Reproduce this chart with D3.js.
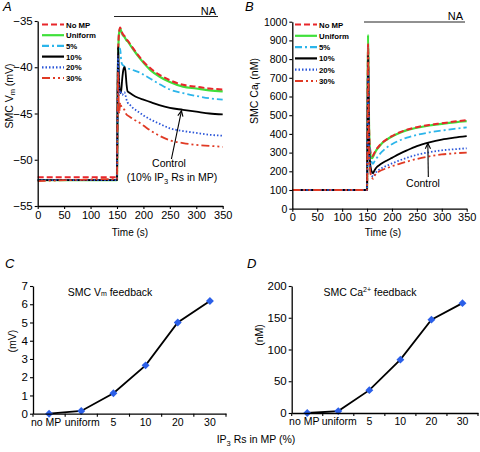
<!DOCTYPE html>
<html><head><meta charset="utf-8">
<script src="https://cdn.jsdelivr.net/npm/d3@7"></script>
<style>body{margin:0;background:#fff}svg{display:block;font-family:"Liberation Sans",Arial,sans-serif}</style>
</head><body><svg id="c" width="480" height="452"></svg>
<script>
// ---------- data ----------
const time = [0,30,60,90,120,149,150,151,152,153,154,156,158,160,162,164,166,168,170,175,180,190,200,215,230,250,275,300,325,350];
const seriesNames = ["No MP","Uniform","5%","10%","20%","30%"];
// Panel A: SMC Vm (mV)
const vmNoMP   = [-51.9,-51.9,-51.9,-51.9,-51.9,-51.9,-51.9,-45,-39,-37,-36.2,-35.7,-36.0,-36.3,-36.5,-36.6,-36.8,-37.0,-37.1,-37.5,-37.9,-38.7,-39.4,-40.2,-40.8,-41.4,-41.9,-42.1,-42.3,-42.4];
const vmUniform= [-52.2,-52.2,-52.2,-52.2,-52.2,-52.2,-52.2,-45,-39.5,-37.2,-36.3,-35.8,-36.1,-36.4,-36.6,-36.7,-36.9,-37.1,-37.2,-37.6,-38.0,-38.8,-39.5,-40.4,-41.0,-41.6,-42.1,-42.3,-42.5,-42.6];
const vm5      = [-52.2,-52.2,-52.2,-52.2,-52.2,-52.2,-52.2,-45,-39,-38.2,-38.0,-38.0,-39.3,-39.7,-39.8,-39.9,-40.0,-40.0,-40.1,-40.2,-40.3,-40.5,-40.8,-41.3,-41.8,-42.4,-42.8,-43.1,-43.35,-43.5];
const vm10     = [-52.2,-52.2,-52.2,-52.2,-52.2,-52.2,-52.2,-44,-37.8,-39.5,-41.5,-42.8,-42.5,-41.2,-40.3,-40.0,-40.4,-41.8,-42.6,-42.8,-43.0,-43.3,-43.5,-43.8,-44.1,-44.4,-44.6,-44.8,-45.0,-45.1];
const vm20     = [-52.2,-52.2,-52.2,-52.2,-52.2,-52.2,-52.2,-45,-38.8,-41,-43,-42.5,-42.8,-43.0,-42.8,-42.7,-43.0,-43.5,-43.8,-44.1,-44.4,-44.8,-45.2,-45.7,-46.1,-46.6,-46.9,-47.1,-47.3,-47.4];
const vm30     = [-52.3,-52.25,-52.2,-52.15,-52.1,-52.1,-52.1,-46,-40.5,-43,-45,-43.8,-44.2,-44.4,-44.5,-44.6,-44.9,-45.1,-45.2,-45.4,-45.6,-45.9,-46.3,-46.9,-47.4,-47.9,-48.2,-48.4,-48.5,-48.6];
// Panel B: SMC Cai (nM)
const caNoMP   = [100,100,100,100,100,100,100,500,880,700,450,320,290,280,285,295,305,315,322,338,352,372,388,408,422,436,448,457,466,474];
const caUniform= [100,100,100,100,100,100,100,550,930,720,440,310,275,270,278,290,300,310,318,335,350,370,386,405,420,433,445,454,462,468];
const ca5      = [100,100,100,100,100,100,100,480,860,650,400,290,260,245,240,248,258,266,273,290,305,328,345,365,380,395,408,418,427,435];
const ca10     = [100,100,100,100,100,100,100,450,820,600,350,250,210,195,190,200,210,218,224,234,243,258,272,293,312,335,355,370,380,388];
const ca20     = [100,100,100,100,100,100,100,400,780,550,300,220,185,175,170,178,188,195,200,210,218,230,242,258,272,288,302,312,318,323];
const ca30     = [100,100,100,100,100,100,100,420,860,600,320,210,175,165,160,170,180,188,192,200,207,217,227,240,252,266,280,290,296,300];
// Panels C, D
const categories = ["no MP","uniform","5","10","20","30"];
const vmFeedback = [0,0.15,1.12,2.65,5.0,6.18];
const caFeedback = [0,3,36,84,147,173];
const ticksA = [-55,-50,-45,-40,-35];
const ticksB = [0,100,200,300,400,500,600,700,800,900,1000];
const ticksTime = [0,50,100,150,200,250,300,350];
const ticksC = [0,1,2,3,4,5,6,7];
const ticksD = [0,50,100,150,200];

// ---------- styles ----------
const styles = [
  {color:"#e8262b", dash:"6,3", w:2},
  {color:"#3fe03a", dash:null, w:2.2},
  {color:"#2cb5ea", dash:"7,3,2,3", w:1.8},
  {color:"#000000", dash:null, w:1.8},
  {color:"#2a55d8", dash:"1.5,2", w:1.8},
  {color:"#e03a24", dash:"8,3,2,3,2,3", w:1.8}
];

const svg = d3.select("#c");
const FS = 11;

function axisStyle(g, fs){
  g.selectAll("path.domain").attr("stroke","#000").attr("stroke-width",1.3);
  g.selectAll(".tick line").attr("stroke","#000").attr("stroke-width",1.1);
  g.selectAll(".tick text").attr("font-size",fs||FS).attr("fill","#000").attr("font-family","Liberation Sans, Arial, sans-serif");
}

function timePanel(opts){
  const x = d3.scaleLinear().domain([0,350]).range(opts.xr);
  const y = d3.scaleLinear().domain(opts.yd).range(opts.yr);
  const g = svg.append("g");
  const line = d3.line().x((d,i)=>x(time[i])).y(d=>y(d)).curve(d3.curveMonotoneX);
  const order = [1,0,2,3,4,5];
  order.forEach(k=>{
    const s = styles[k];
    g.append("path").attr("d", line(opts.data[k])).attr("fill","none")
      .attr("stroke", s.color).attr("stroke-width", s.w)
      .attr("stroke-dasharray", s.dash).attr("stroke-linejoin","round");
  });
  const xa = g.append("g").attr("transform",`translate(0,${opts.yr[0]})`)
    .call(d3.axisBottom(x).tickValues(ticksTime).tickSize(3).tickPadding(2).tickSizeOuter(0));
  axisStyle(xa);
  const ya = g.append("g").attr("transform",`translate(${opts.xr[0]},0)`)
    .call(d3.axisLeft(y).tickValues(opts.ticks).tickSize(3).tickPadding(2).tickSizeOuter(0)
      .tickFormat(d=> d<0 ? "\u2212"+Math.abs(d) : d));
  axisStyle(ya, opts.yfs);
  // legend
  seriesNames.forEach((n,i)=>{
    const s = styles[i];
    const yy = opts.leg.y + i*opts.leg.dy;
    g.append("line").attr("x1",opts.leg.x).attr("x2",opts.leg.x+opts.leg.len).attr("y1",yy).attr("y2",yy)
      .attr("stroke",s.color).attr("stroke-width",2.2).attr("stroke-dasharray",s.dash);
    g.append("text").attr("x",opts.leg.x+opts.leg.len+2).attr("y",yy+3).attr("font-size",7.8)
      .attr("font-weight","bold").text(n);
  });
  // NA bar
  g.append("line").attr("x1",opts.na[0]).attr("x2",opts.na[1]).attr("y1",opts.na[2]).attr("y2",opts.na[2])
    .attr("stroke","#222").attr("stroke-width",1);
  g.append("text").attr("x",opts.na[1]-2).attr("y",opts.na[2]-2).attr("text-anchor","end").attr("font-size",11).text("NA");
  // x label
  g.append("text").attr("x",opts.xlab).attr("y",236).attr("text-anchor","middle").attr("font-size",10).text("Time (s)");
  return {x,y,g};
}

// Panel A
const A = timePanel({xr:[37.7,222.7], yd:[-55,-35], yr:[206,21], ticks:ticksA, yfs:11.5,
  data:[vmNoMP,vmUniform,vm5,vm10,vm20,vm30], leg:{x:42,y:24.5,dy:10.7,len:22}, na:[114,218,16.5], xlab:130});
// Panel B
const B = timePanel({xr:[292.3,466.7], yd:[0,1000], yr:[208.7,21.7], ticks:ticksB, yfs:10.5,
  data:[caNoMP,caUniform,ca5,ca10,ca20,ca30], leg:{x:295,y:24.5,dy:11.3,len:22}, na:[364,465,22], xlab:383});

// Y labels A, B
const ylA = svg.append("text").attr("transform","translate(13,96) rotate(-90)").attr("text-anchor","middle").attr("font-size",10.5);
ylA.append("tspan").text("SMC V");
ylA.append("tspan").attr("font-size",7.5).attr("dy",2).text("m");
ylA.append("tspan").attr("dy",-2).text(" (mV)");
const ylB = svg.append("text").attr("transform","translate(258,91) rotate(-90)").attr("text-anchor","middle").attr("font-size",10.5);
ylB.append("tspan").text("SMC Ca");
ylB.append("tspan").attr("font-size",7.5).attr("dy",2).text("i");
ylB.append("tspan").attr("dy",-2).text(" (nM)");

// Annotations
function arrow(x1,y1,x2,y2){
  svg.append("line").attr("x1",x1).attr("y1",y1).attr("x2",x2).attr("y2",y2).attr("stroke","#000").attr("stroke-width",1.1);
  const ang = Math.atan2(y2-y1,x2-x1);
  const L=6, W=0.45;
  const p = [[x2,y2],[x2-L*Math.cos(ang-W),y2-L*Math.sin(ang-W)],[x2,y2],[x2-L*Math.cos(ang+W),y2-L*Math.sin(ang+W)]];
  svg.append("path").attr("d",d3.line()(p)).attr("fill","none").attr("stroke","#000").attr("stroke-width",1.1);
}
arrow(A.x(253),159,A.x(272),A.y(-44.6)+1);
svg.append("text").attr("x",169).attr("y",167).attr("text-anchor","middle").attr("font-size",10.5).text("Control");
const an = svg.append("text").attr("x",172).attr("y",181).attr("text-anchor","middle").attr("font-size",10.5);
an.append("tspan").text("(10% IP");
an.append("tspan").attr("font-size",7.5).attr("dy",2.5).text("3");
an.append("tspan").attr("dy",-2.5).text(" Rs in MP)");
arrow(B.x(273),177,B.x(272),B.y(355)+1);
svg.append("text").attr("x",423).attr("y",187).attr("text-anchor","middle").attr("font-size",10.5).text("Control");

// Panel letters
[["A",3,11],["B",245,11],["C",5,268],["D",247,268]].forEach(([t,x,y])=>{
  svg.append("text").attr("x",x).attr("y",y).attr("font-size",13).attr("font-style","italic").text(t);
});

// Category panels
function catPanel(opts){
  const x = d3.scaleBand().domain(categories).range(opts.xr);
  const y = d3.scaleLinear().domain(opts.yd).range(opts.yr);
  const g = svg.append("g");
  const line = d3.line().x((d,i)=>x(categories[i])+x.bandwidth()/2).y(d=>y(d));
  g.append("path").attr("d",line(opts.data)).attr("fill","none").attr("stroke","#000").attr("stroke-width",1.8);
  const sym = d3.symbol().type(d3.symbolDiamond2).size(40);
  g.selectAll("path.pt").data(opts.data).join("path").attr("class","pt")
    .attr("transform",(d,i)=>`translate(${x(categories[i])+x.bandwidth()/2},${y(d)})`)
    .attr("d",sym).attr("fill","#2b5fe8");
  const xa = g.append("g").attr("transform",`translate(0,${opts.yr[0]})`)
    .call(d3.axisBottom(x).tickSize(0).tickPadding(5));
  axisStyle(xa, 10.5);
  xa.selectAll(".tick text").attr("dx",(d,i)=> i===0 ? -3 : (i===1 ? 1 : 0));
  const bounds = d3.range(categories.length+1).map(i=>opts.xr[0]+i*x.step());
  g.selectAll("line.bt").data(bounds).join("line").attr("class","bt")
    .attr("x1",d=>d).attr("x2",d=>d).attr("y1",opts.yr[0]).attr("y2",opts.yr[0]+3)
    .attr("stroke","#000").attr("stroke-width",1.1);
  const ya = g.append("g").attr("transform",`translate(${opts.xr[0]},0)`)
    .call(d3.axisLeft(y).tickValues(opts.ticks).tickSize(3).tickPadding(2).tickSizeOuter(0).tickFormat(d3.format("d")));
  axisStyle(ya, 11.5);
  g.append("text").attr("transform",`translate(${opts.ylab[0]},${opts.ylab[1]}) rotate(-90)`)
    .attr("text-anchor","middle").attr("font-size",10.5).text(opts.ylabText);
  return g;
}
catPanel({xr:[33,226], yd:[0,7], yr:[413.7,286], ticks:ticksC, data:vmFeedback, ylab:[16,341], ylabText:"(mV)"});
catPanel({xr:[291.7,478], yd:[0,200], yr:[413,286], ticks:ticksD, data:caFeedback, ylab:[263,335], ylabText:"(nM)"});

const tC = svg.append("text").attr("x",110).attr("y",296).attr("text-anchor","middle").attr("font-size",10.5);
tC.append("tspan").text("SMC V");
tC.append("tspan").attr("font-size",7).text("m");
tC.append("tspan").text(" feedback");
const tD = svg.append("text").attr("x",370).attr("y",296).attr("text-anchor","middle").attr("font-size",10.5);
tD.append("tspan").text("SMC Ca");
tD.append("tspan").attr("font-size",7).attr("dy",-4).text("2+");
tD.append("tspan").attr("dy",4).text(" feedback");

const xl = svg.append("text").attr("x",256).attr("y",443).attr("text-anchor","middle").attr("font-size",10.5);
xl.append("tspan").text("IP");
xl.append("tspan").attr("font-size",7.5).attr("dy",2.5).text("3");
xl.append("tspan").attr("dy",-2.5).text(" Rs in MP (%)");
</script></body></html>
